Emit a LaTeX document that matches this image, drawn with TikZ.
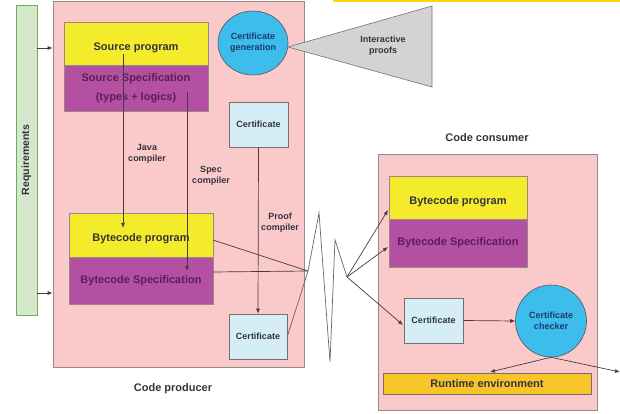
\documentclass[tikz,border=0pt]{standalone}
\usepackage{fontspec}
\setmainfont{Liberation Sans}
\usetikzlibrary{arrows.meta,shapes.geometric}
\definecolor{pinkbg}{HTML}{FACACA}
\definecolor{pinkline}{HTML}{9A8888}
\definecolor{ylw}{HTML}{F4EC2A}
\definecolor{purp}{HTML}{B450A2}
\definecolor{txt}{HTML}{333340}
\definecolor{spectxt}{HTML}{5A1E5A}
\definecolor{cyanc}{HTML}{3CBDEC}
\definecolor{circtxt}{HTML}{1E3A6A}
\definecolor{certfill}{HTML}{D5EEF6}
\definecolor{greenbar}{HTML}{D5E8CB}
\definecolor{trigray}{HTML}{D3D3D3}
\definecolor{runfill}{HTML}{F8C529}
\definecolor{linec}{HTML}{4A3A3A}
\definecolor{topy}{HTML}{FFD800}
\tikzset{
  big/.style={font=\fontsize{11}{13}\selectfont\bfseries},
  small/.style={font=\fontsize{9}{11}\selectfont\bfseries},
  area/.style={draw=pinkline, fill=pinkbg, line width=0.6pt, anchor=center, inner sep=0},
  ybox/.style={draw=pinkline, fill=ylw, line width=0.6pt, big, text=txt, inner sep=0, text height=16pt, text depth=2.5pt},
  pbox/.style={draw=pinkline, fill=purp, line width=0.6pt, big, text=spectxt, inner sep=0, align=center},
  certbox/.style={draw=pinkline!80!black, fill=certfill, line width=0.6pt, small, text=txt, inner sep=0, minimum width=59pt, minimum height=45pt},
  circ/.style={ellipse, draw=pinkline!60!black, fill=cyanc, line width=0.6pt, small, text=circtxt, align=center, inner sep=0},
  lbl/.style={small, text=txt, align=center, inner sep=0},
  ttl/.style={big, text=txt, inner sep=0},
  arr/.style={draw=linec, line width=0.7pt, -{Latex[length=5pt,width=4pt]}},
  ln/.style={draw=linec, line width=0.7pt},
  zig/.style={draw=linec!80, line width=0.7pt, line join=miter},
}
\begin{document}
\begin{tikzpicture}[x=1pt,y=-1pt]
\useasboundingbox (0,0) rectangle (620,414);
% top yellow strip
\draw[topy, line width=2pt] (333,0.8) -- (620,0.8);
% requirements bar
\node[draw=pinkline!70!green, fill=greenbar, line width=0.6pt, minimum width=21pt, minimum height=310pt, inner sep=0] (req) at (26.5,160) {};
\node[rotate=90, font=\fontsize{10.5}{12}\selectfont\bfseries, text=txt] (reqt) at (req.center) {Requirements};
% producer area
\node[area, minimum width=251pt, minimum height=366pt] (prod) at (178.5,184) {};
\node[ttl] (prodlbl) at (173,389) {Code producer};
% source
\node[ybox, minimum width=144pt, minimum height=43pt] (sprog) at (136,43.5) {Source program};
\node[pbox, minimum width=144pt, minimum height=46pt] (sspec) at (136,88) {Source Specification\\[6pt](types + logics)};
% certificate generation + interactive proofs
\node[circ, minimum width=70pt, minimum height=64pt] (cgen) at (253,43) {Certificate\\generation};
\coordinate (t1) at (288,47);
\coordinate (t2) at (432,6);
\coordinate (t3) at (432,87);
\draw[draw=gray!90!black, fill=trigray, line width=0.6pt] (t1) -- (t2) -- (t3) -- cycle;
\node[lbl] (iproofs) at (383,46) {Interactive\\proofs};
% certificates producer
\node[certbox] (certA) at (258.5,124.5) {Certificate};
\node[certbox, minimum width=58pt] (certB) at (258,336.5) {Certificate};
% bytecode producer
\node[ybox, minimum width=144pt, minimum height=44pt] (bprog) at (141,235) {Bytecode program};
\node[pbox, minimum width=144pt, minimum height=47pt] (bspec) at (141,280.5) {Bytecode Specification};
% compiler arrows
\coordinate (j1) at (123,54);
\coordinate (j2) at (123,228);
\coordinate (s1) at (187,92);
\coordinate (s2) at (187,271);
\draw[arr] (j1) -- (j2);
\draw[arr] (s1) -- (s2);
\draw[arr] (certA.south) -- (certB.north);
\node[lbl] (jc) at (147,154) {Java\\compiler};
\node[lbl] (sc) at (211,176) {Spec\\compiler};
\node[lbl] (pc) at (280,223) {Proof\\compiler};
% requirement arrows
\coordinate (r1) at (37,48);
\coordinate (r2) at (37,293);
\draw[arr] (r1) -- (prod.west |- r1);
\draw[arr] (r2) -- (prod.west |- r2);
% zigzag transmission
\coordinate (z0) at (308,271);
\coordinate (z1) at (319,213);
\coordinate (z2) at (330,362);
\coordinate (z3) at (335,240);
\coordinate (z4) at (347,277);
\coordinate (bp1) at (213,240);
\coordinate (bs1) at (213,272);
\draw[ln] (bp1) -- (z0);
\draw[ln] (bs1) -- (z0);
\draw[zig] (certB.east) -- (z0) -- (z1) -- (z2) -- (z3) -- (z4);
% consumer area
\node[area, minimum width=219pt, minimum height=256pt] (cons) at (487.5,282) {};
\node[ttl] (conslbl) at (487,138) {Code consumer};
\node[ybox, minimum width=138pt, minimum height=43pt] (cbprog) at (458,197.5) {Bytecode program};
\node[pbox, minimum width=138pt, minimum height=48pt] (cbspec) at (458,243) {Bytecode Specification};
\node[certbox] (ccert) at (433.5,320.5) {Certificate};
\node[circ, minimum width=71pt, minimum height=72pt] (check) at (551,321) {Certificate\\checker};
\node[draw=pinkline!80!black, fill=runfill, line width=0.6pt, big, text=txt, inner sep=0, minimum width=208pt, minimum height=21pt] (run) at (487,383.5) {Runtime environment};
% arrows into consumer
\coordinate (c1) at (388,210);
\coordinate (c2) at (388,247);
\coordinate (c3) at (403,325);
\draw[arr] (z4) -- (c1);
\draw[arr] (z4) -- (c2);
\draw[arr] (z4) -- (c3);
\draw[arr] (ccert.east) -- (check.west);
\coordinate (rt) at (490,372);
\coordinate (out) at (620,372);
\draw[arr] (check.south) -- (rt);
\draw[arr] (check.south) -- (out);
\end{tikzpicture}
\end{document}
